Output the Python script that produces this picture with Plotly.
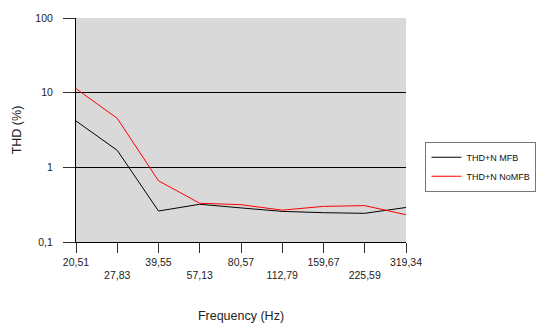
import plotly.graph_objects as go

freqs = ["20,51", "27,83", "39,55", "57,13", "80,57", "112,79", "159,67", "225,59", "319,34"]
thd_mfb = [4.18, 1.69, 0.26, 0.32, 0.286, 0.257, 0.247, 0.242, 0.29]
thd_nomfb = [11.3, 4.53, 0.66, 0.33, 0.316, 0.267, 0.30, 0.307, 0.232]
y_ticks = [0.1, 1, 10, 100]
y_ticktext = ["0,1", "1", "10", "100"]

x_idx = list(range(len(freqs)))
x_ticktext = [f if i % 2 == 0 else "<br>" + f for i, f in enumerate(freqs)]

fig = go.Figure()
fig.add_trace(go.Scatter(x=x_idx, y=thd_mfb, mode="lines", name="THD+N MFB",
                         line=dict(color="black", width=1)))
fig.add_trace(go.Scatter(x=x_idx, y=thd_nomfb, mode="lines", name="THD+N NoMFB",
                         line=dict(color="#ff0000", width=1)))

fig.update_layout(
    width=548, height=332,
    margin=dict(l=76, r=116, t=12, b=88),
    paper_bgcolor="white",
    plot_bgcolor="#d9d9d9",
    font=dict(family="Liberation Sans, Arial, sans-serif", size=10, color="#222"),
    showlegend=True,
    legend=dict(x=1.059, y=0.336, xanchor="left", yanchor="middle",
                bgcolor="white", bordercolor="#777", borderwidth=1,
                font=dict(size=9, color="#111"), tracegroupgap=0,
                itemwidth=30),
    xaxis=dict(
        range=[0, len(freqs) - 1],
        tickmode="array", tickvals=x_idx, ticktext=x_ticktext,
        ticks="outside", ticklen=10, tickcolor="#333", tickwidth=1,
        showgrid=False, zeroline=False,
        showline=True, linecolor="black", linewidth=1,
        tickfont=dict(size=10.5),
        title=dict(text="Frequency (Hz)", font=dict(size=12.5), standoff=30),
    ),
    yaxis=dict(
        type="log", range=[-1, 2],
        tickmode="array", tickvals=y_ticks, ticktext=y_ticktext,
        ticks="outside", ticklen=12, tickcolor="#333", tickwidth=1,
        showgrid=True, gridcolor="black", gridwidth=1,
        zeroline=False,
        showline=True, linecolor="black", linewidth=1,
        tickfont=dict(size=10.5),
        ticklabelstandoff=8,
        title=dict(text="THD (%)", font=dict(size=12.5), standoff=10),
    ),
)

fig.write_html("out.html")
